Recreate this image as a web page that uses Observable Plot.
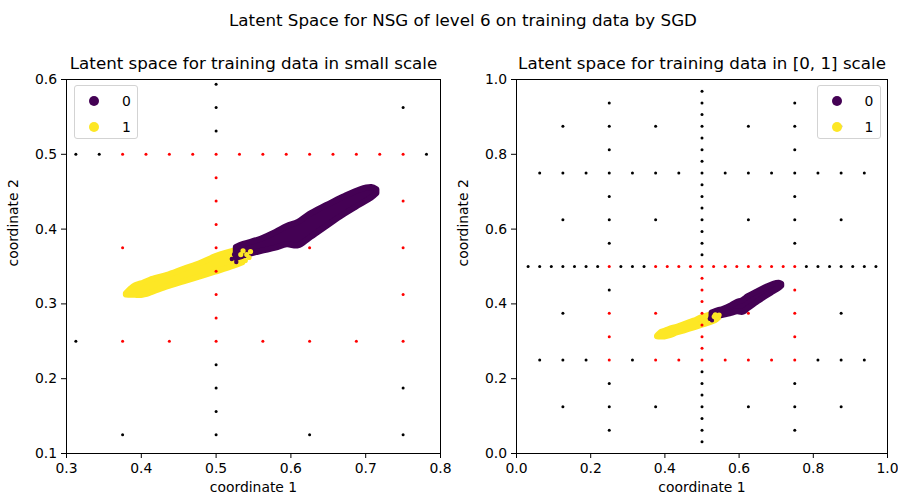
<!DOCTYPE html>
<html><head><meta charset="utf-8">
<script src="https://cdn.jsdelivr.net/npm/d3@7"></script>
<script src="https://cdn.jsdelivr.net/npm/@observablehq/plot@0.6"></script>
<style>
body{margin:0;background:#fff;}
#root{position:relative;width:898px;height:495px;font-family:"DejaVu Sans";color:#000;overflow:hidden;background:#fff}
.abs{position:absolute;white-space:nowrap}
.legend{position:absolute;border:1px solid #d3d3d3;border-radius:3px;background:rgba(255,255,255,0.8);box-sizing:border-box}
.dotk{position:absolute;width:10px;height:10px;border-radius:50%}
.lab{position:absolute;font-size:13.9px;line-height:16px}
svg{position:absolute;top:0}
</style></head><body>
<div id="root"></div>
<script>
// ---------- data ----------
const suptitle = "Latent Space for NSG of level 6 on training data by SGD";
const panelTitles = ["Latent space for training data in small scale", "Latent space for training data in [0, 1] scale"];
const xLabel = "coordinate 1", yLabel = "coordinate 2";
const classLabels = ["0", "1"];
const classColors = ["#440154", "#fde725"];

const ticksSmall = [0.3, 0.4, 0.5, 0.6, 0.7, 0.8];
const ticksSmallY = [0.1, 0.2, 0.3, 0.4, 0.5, 0.6];
const ticksUnit = [0.0, 0.2, 0.4, 0.6, 0.8, 1.0];

// class 1 (yellow) cloud envelope (point centres)
const class1X    = [0.380, 0.386, 0.392, 0.400, 0.412, 0.435, 0.457, 0.479, 0.499, 0.524, 0.536];
const class1Low  = [0.3120, 0.3115, 0.3115, 0.3113, 0.3143, 0.3228, 0.3293, 0.3362, 0.3423, 0.3503, 0.3550];
const class1High = [0.3135, 0.3195, 0.3242, 0.3267, 0.3316, 0.3383, 0.3463, 0.3539, 0.3628, 0.3704, 0.3715];
// class 0 (purple) cloud envelope (point centres)
const class0X    = [0.527, 0.537, 0.560, 0.580, 0.595, 0.610, 0.625, 0.648, 0.670, 0.693, 0.708, 0.715];
const class0Low  = [0.361, 0.364, 0.370, 0.3745, 0.379, 0.3775, 0.3875, 0.4035, 0.4185, 0.4325, 0.4415, 0.4475];
const class0High = [0.3755, 0.3795, 0.3865, 0.3955, 0.4035, 0.409, 0.4195, 0.4315, 0.4425, 0.4525, 0.4555, 0.4525];
// stray class-1 points inside the class-0 cloud
const class1Specks = [[0.536, 0.371], [0.541, 0.366], [0.544, 0.362], [0.539, 0.358], [0.546, 0.370], [0.533, 0.366]];
// stray class-0 points inside the class-1 cloud
const class0Specks = [[0.524, 0.366], [0.521, 0.360], [0.527, 0.356]];

// sparse grid points, active (red)
const redGrid = [
  [0.5,0.25],[0.5,0.28125],[0.5,0.3125],[0.5,0.34375],[0.5,0.375],[0.5,0.40625],[0.5,0.4375],[0.5,0.46875],[0.5,0.5],
  [0.25,0.25],[0.25,0.3125],[0.25,0.375],[0.25,0.5],
  [0.75,0.25],[0.75,0.3125],[0.75,0.375],[0.75,0.4375],[0.75,0.5],
  [0.375,0.25],[0.375,0.375],[0.375,0.5],
  [0.625,0.25],[0.625,0.375],[0.625,0.5],
  [0.4375,0.25],[0.4375,0.5],[0.5625,0.25],[0.5625,0.5],[0.6875,0.25],[0.6875,0.5],
  [0.40625,0.5],[0.46875,0.5],[0.53125,0.5],[0.59375,0.5],[0.65625,0.5],[0.71875,0.5]
];
// sparse grid points, inactive (black)
const blackGrid = [
  [0.5,0.03125],[0.5,0.0625],[0.5,0.09375],[0.5,0.125],[0.5,0.15625],[0.5,0.1875],[0.5,0.21875],
  [0.5,0.53125],[0.5,0.5625],[0.5,0.59375],[0.5,0.625],[0.5,0.65625],[0.5,0.6875],[0.5,0.71875],[0.5,0.75],
  [0.5,0.78125],[0.5,0.8125],[0.5,0.84375],[0.5,0.875],[0.5,0.90625],[0.5,0.9375],[0.5,0.96875],
  [0.25,0.0625],[0.25,0.125],[0.25,0.1875],[0.25,0.4375],[0.25,0.5625],[0.25,0.625],[0.25,0.6875],[0.25,0.75],[0.25,0.8125],[0.25,0.875],[0.25,0.9375],
  [0.75,0.0625],[0.75,0.125],[0.75,0.1875],[0.75,0.5625],[0.75,0.625],[0.75,0.6875],[0.75,0.75],[0.75,0.8125],[0.75,0.875],[0.75,0.9375],
  [0.125,0.125],[0.125,0.25],[0.125,0.375],[0.125,0.5],[0.125,0.625],[0.125,0.75],[0.125,0.875],
  [0.875,0.125],[0.875,0.25],[0.875,0.375],[0.875,0.5],[0.875,0.625],[0.875,0.75],[0.875,0.875],
  [0.375,0.125],[0.375,0.625],[0.375,0.75],[0.375,0.875],
  [0.625,0.125],[0.625,0.625],[0.625,0.75],[0.625,0.875],
  [0.0625,0.25],[0.0625,0.5],[0.0625,0.75],[0.1875,0.25],[0.1875,0.5],[0.1875,0.75],
  [0.3125,0.25],[0.3125,0.5],[0.3125,0.75],[0.8125,0.25],[0.8125,0.5],[0.8125,0.75],
  [0.9375,0.25],[0.9375,0.5],[0.9375,0.75],
  [0.4375,0.75],[0.5625,0.75],[0.6875,0.75],
  [0.03125,0.5],[0.09375,0.5],[0.15625,0.5],[0.21875,0.5],[0.28125,0.5],[0.34375,0.5],
  [0.78125,0.5],[0.84375,0.5],[0.90625,0.5],[0.96875,0.5]
];

// ---------- build ----------
const band0 = class0X.map((x, i) => ({x, lo: class0Low[i], hi: class0High[i]}));
const band1 = class1X.map((x, i) => ({x, lo: class1Low[i], hi: class1High[i]}));
const root = document.getElementById("root");

function panel({left, w, mr, xDomain, yDomain, xTicks, yTicks, title}) {
  const chart = Plot.plot({
    width: w, height: 495,
    marginLeft: 66, marginRight: mr, marginTop: 79, marginBottom: 42,
    style: {fontFamily: "DejaVu Sans", fontSize: "13.9px", color: "#000", background: "transparent", overflow: "visible"},
    x: {domain: xDomain, label: null},
    y: {domain: yDomain, label: null},
    marks: [
      Plot.areaY(band1, {x: "x", y1: "lo", y2: "hi", fill: classColors[1], stroke: classColors[1], strokeWidth: 6, strokeLinejoin: "round", curve: "catmull-rom", clip: true}),
      Plot.areaY(band0, {x: "x", y1: "lo", y2: "hi", fill: classColors[0], stroke: classColors[0], strokeWidth: 6, strokeLinejoin: "round", curve: "catmull-rom", clip: true}),
      Plot.dot(class0Specks, {x: d => d[0], y: d => d[1], r: 2.2, fill: classColors[0], clip: true}),
      Plot.dot(class1Specks, {x: d => d[0], y: d => d[1], r: 2.6, fill: classColors[1], clip: true}),
      Plot.dot(blackGrid, {x: d => d[0], y: d => d[1], r: 1.5, fill: "#000", clip: true}),
      Plot.dot(redGrid, {x: d => d[0], y: d => d[1], r: 1.5, fill: "#ff0000", clip: true}),
      Plot.frame({stroke: "#000", strokeWidth: 1}),
      Plot.axisX(xTicks, {tickSize: 5, tickPadding: 5, tickFormat: d3.format(".1f"), label: null, fontSize: 13.9}),
      Plot.axisY(yTicks, {tickSize: 5, tickPadding: 4.5, tickFormat: d3.format(".1f"), label: null, fontSize: 13.9}),
      Plot.text([title], {frameAnchor: "top", dy: -11, lineAnchor: "bottom", fontSize: 16.7, text: d => d}),
      Plot.text([xLabel], {frameAnchor: "bottom", dy: 38.5, lineAnchor: "bottom", fontSize: 13.9, text: d => d}),
      Plot.text([yLabel], {frameAnchor: "left", dx: -49, rotate: -90, lineAnchor: "bottom", fontSize: 13.9, text: d => d})
    ]
  });
  chart.style.left = left + "px";
  root.appendChild(chart);
}

panel({left: 0, w: 450, mr: 10, xDomain: [0.3, 0.8], yDomain: [0.1, 0.6], xTicks: ticksSmall, yTicks: ticksSmallY, title: panelTitles[0]});
panel({left: 450, w: 448, mr: 11, xDomain: [0, 1], yDomain: [0, 1], xTicks: ticksUnit, yTicks: ticksUnit, title: panelTitles[1]});

// suptitle
const st = document.createElement("div");
st.className = "abs";
st.style.cssText = "left:463px;top:10px;transform:translateX(-50%);font-size:16.7px;line-height:20px;";
st.textContent = suptitle;
root.appendChild(st);

// legends
function legend(boxLeft) {
  const box = document.createElement("div");
  box.className = "legend";
  box.style.cssText = `left:${boxLeft}px;top:85px;width:64px;height:54px;`;
  root.appendChild(box);
  classLabels.forEach((lab, i) => {
    const cy = 101 + i * 25.7;
    const d = document.createElement("div");
    d.className = "dotk";
    d.style.cssText = `left:${boxLeft + 20.5 - 5}px;top:${cy - 5}px;background:${classColors[i]};`;
    root.appendChild(d);
    const t = document.createElement("div");
    t.className = "lab";
    t.style.cssText = `left:${boxLeft + 52.5 - 4.4}px;top:${cy - 7.8}px;`;
    t.textContent = lab;
    root.appendChild(t);
  });
}
legend(73.8);
legend(816.5);
</script>
</body></html>
